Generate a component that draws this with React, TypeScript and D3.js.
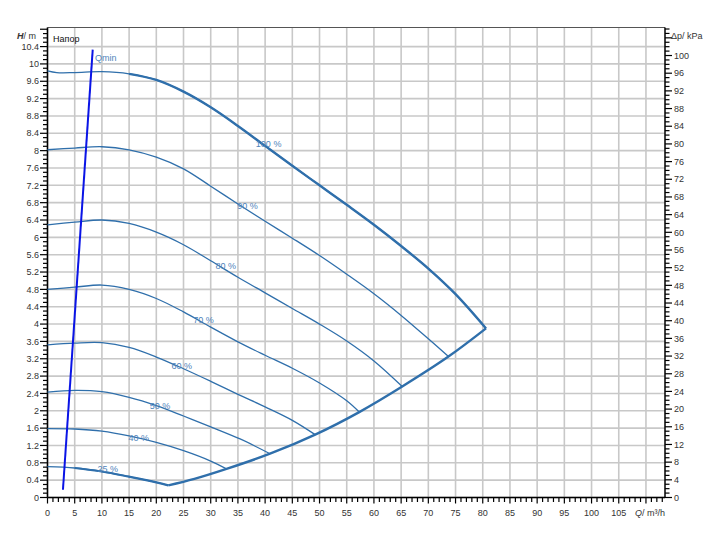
import React from "react";
import * as d3 from "d3";

// ---- data ----
const Q100 = [0, 1.7, 5, 10, 15, 20, 25, 30, 35, 40, 45, 50, 55, 60, 65, 70, 75, 80.6];
const H100 = [9.84, 9.8, 9.8, 9.82, 9.77, 9.63, 9.36, 9.0, 8.57, 8.11, 7.65, 7.2, 6.75, 6.29, 5.8, 5.28, 4.69, 3.9];
const Q90 = [0, 5, 10, 15, 20, 25, 30, 35, 40, 45, 50, 55, 60, 65, 70, 73.7];
const H90 = [8.02, 8.06, 8.09, 8.02, 7.85, 7.58, 7.18, 6.77, 6.37, 5.98, 5.58, 5.15, 4.7, 4.2, 3.66, 3.25];
const Q80 = [0, 5, 10, 15, 20, 25, 30, 35, 40, 45, 50, 55, 60, 65.2];
const H80 = [6.29, 6.35, 6.4, 6.32, 6.12, 5.83, 5.46, 5.08, 4.72, 4.36, 4.0, 3.61, 3.15, 2.56];
const Q70 = [0, 5, 10, 15, 20, 25, 30, 35, 40, 45, 50, 55, 57.3];
const H70 = [4.8, 4.85, 4.9, 4.8, 4.59, 4.28, 3.93, 3.59, 3.28, 2.98, 2.64, 2.23, 1.97];
const Q60 = [0, 5, 10, 15, 20, 25, 30, 35, 40, 45, 49.2];
const H60 = [3.52, 3.56, 3.57, 3.46, 3.24, 2.97, 2.68, 2.38, 2.09, 1.78, 1.45];
const Q50 = [0, 5, 10, 15, 20, 25, 30, 35.4, 40.9];
const H50 = [2.43, 2.47, 2.44, 2.31, 2.12, 1.88, 1.63, 1.35, 1.01];
const Q40 = [0, 5, 10, 15, 20, 25, 30, 32.9];
const H40 = [1.59, 1.58, 1.53, 1.42, 1.27, 1.08, 0.84, 0.66];
const Q25 = [0, 5, 10, 15, 20, 22.2];
const H25 = [0.71, 0.68, 0.6, 0.48, 0.35, 0.28];
const QMAX = [22.2, 27, 32.9, 40.9, 49.2, 57.3, 65.2, 73.7, 80.6];
const HMAX = [0.28, 0.43, 0.66, 1.01, 1.45, 1.97, 2.56, 3.25, 3.9];
const QMIN_Q = [2.84, 8.31];
const QMIN_H = [0.18, 10.33];

const curveNames = ["100 %", "90 %", "80 %", "70 %", "60 %", "50 %", "40 %", "25 %"];
const curveQs = [Q100, Q90, Q80, Q70, Q60, Q50, Q40, Q25];
const curveHs = [H100, H90, H80, H70, H60, H50, H40, H25];
// label anchor (Q, H) for each curve label
const labelQ = [38.3, 34.9, 30.9, 26.8, 22.8, 18.8, 14.9, 9.2];
const labelH = [8.08, 6.65, 5.26, 4.02, 2.96, 2.04, 1.30, 0.59];

const xGrid = d3.range(0, 111, 5);
const xLabels = d3.range(0, 106, 5);
const yTicks = d3.range(0, 10.41, 0.4);
const kpaTicks = d3.range(0, 101, 4);

export default function App() {
  const W = 725, H = 550;
  const x = d3.scaleLinear().domain([0, 113.5]).range([47.5, 665]);
  const y = d3.scaleLinear().domain([0, 10.84]).range([497.5, 27.5]);
  const yk = d3.scaleLinear().domain([0, 10.84 * 9.81]).range([497.5, 27.5]);
  const [x0, x1] = x.range();
  const [yb, yt] = y.range();

  const line = d3
    .line<[number, number]>()
    .x((d) => x(d[0]))
    .y((d) => y(d[1]))
    .curve(d3.curveCatmullRom.alpha(0.5));

  const pts = (qs: number[], hs: number[]) => qs.map((q, i) => [q, hs[i]] as [number, number]);

  const blue = "#2f6fab";
  const labelBlue = "#4f84bb";
  const font = "'Liberation Sans', Arial, sans-serif";

  const minorX = d3.range(0, 114, 1);
  const minorY = d3.range(0, 10.84, 0.1);
  const minorK = d3.range(0, 106.3, 1);

  return (
    <svg width={W} height={H} style={{ position: "absolute", left: 0, top: 0 }} fontFamily={font}>
      <rect x={0} y={0} width={W} height={H} fill="#fff" />
      {/* grid */}
      {xGrid.map((t) => (
        <line key={"gx" + t} x1={x(t)} x2={x(t)} y1={yb} y2={yt} stroke="#c8c8c8" strokeWidth={1.6} />
      ))}
      {yTicks.map((t) => (
        <line key={"gy" + t} x1={x0} x2={x1} y1={y(t)} y2={y(t)} stroke="#c8c8c8" strokeWidth={1.6} />
      ))}
      {/* frame */}
      <line x1={x0} x2={x1} y1={yt} y2={yt} stroke="#555" strokeWidth={1} />
      <line x1={x0} x2={x0} y1={yt} y2={yb} stroke="#000" strokeWidth={1.5} />
      <line x1={x1} x2={x1} y1={yt} y2={yb} stroke="#000" strokeWidth={1.5} />
      <line x1={x0} x2={x1} y1={yb} y2={yb} stroke="#000" strokeWidth={1.5} />

      {/* bottom ticks */}
      {minorX.map((t) => (
        <line key={"mx" + t} x1={x(t)} x2={x(t)} y1={yb} y2={yb + (t % 5 === 0 ? 6 : 4.5)} stroke="#000" strokeWidth={1.2} />
      ))}
      {xLabels.map((t) => (
        <text key={"lx" + t} x={x(t)} y={515.5} fontSize={9} textAnchor="middle" fill="#333">
          {t}
        </text>
      ))}
      <text x={635} y={515.5} fontSize={9} fill="#333">
        <tspan fontStyle="italic">Q</tspan>/ m³/h
      </text>

      {/* left ticks */}
      {minorY.map((t, i) => (
        <line key={"my" + i} x1={x0} x2={x0 - (i % 4 === 0 ? 7.5 : 4.5)} y1={y(t)} y2={y(t)} stroke="#000" strokeWidth={1.2} />
      ))}
      {yTicks.map((t) => (
        <text key={"ly" + t} x={39} y={y(t) + 3.2} fontSize={9} textAnchor="end" fill="#333">
          {d3.format(".2~f")(t)}
        </text>
      ))}
      <text x={36} y={39} fontSize={9} textAnchor="end" fill="#333">
        <tspan fontStyle="italic" fontWeight="bold">H</tspan>/ m
      </text>

      {/* right ticks */}
      {minorK.map((t, i) => (
        <line key={"mk" + i} x1={x1} x2={x1 + (i % 4 === 0 ? 7 : 4.5)} y1={yk(t)} y2={yk(t)} stroke="#000" strokeWidth={1.2} />
      ))}
      {kpaTicks.map((t) => (
        <text key={"lk" + t} x={674} y={yk(t) + 3.2} fontSize={9} fill="#333">
          {t}
        </text>
      ))}
      <text x={671} y={39} fontSize={9} fill="#333">Δp/ kPa</text>

      <text x={53} y={41.5} fontSize={9} fill="#111">Напор</text>

      {/* curves */}
      {curveQs.map((qs, i) => (
        <path key={"c" + i} d={line(pts(qs, curveHs[i])) || ""} fill="none" stroke={blue} strokeWidth={1.3} />
      ))}
      {/* thick operating parts */}
      <path d={line(pts(Q100.slice(4), H100.slice(4))) || ""} fill="none" stroke={blue} strokeWidth={2.4} />
      <path d={line(pts(Q25.slice(1), H25.slice(1))) || ""} fill="none" stroke={blue} strokeWidth={2.2} />
      <path d={line(pts(QMAX, HMAX)) || ""} fill="none" stroke={blue} strokeWidth={2.4} />

      {curveNames.map((n, i) => (
        <text key={"n" + i} x={x(labelQ[i])} y={y(labelH[i])} fontSize={9} fill={labelBlue}>
          {n}
        </text>
      ))}

      {/* Qmin */}
      <line
        x1={x(QMIN_Q[0])}
        y1={y(QMIN_H[0])}
        x2={x(QMIN_Q[1])}
        y2={y(QMIN_H[1])}
        stroke="#0a14e6"
        strokeWidth={2}
      />
      <text x={95} y={60.5} fontSize={9} fill={labelBlue}>Qmin</text>
    </svg>
  );
}
